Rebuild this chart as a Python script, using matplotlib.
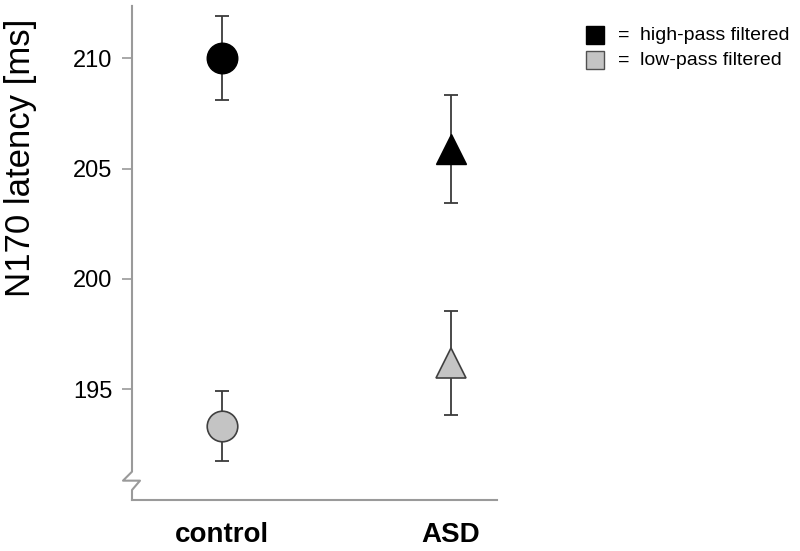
import numpy as np
import matplotlib
matplotlib.use('Agg')
import matplotlib.pyplot as plt
from matplotlib.lines import Line2D

plt.rcParams['font.family'] = ['Liberation Sans', 'DejaVu Sans']

groups = ['control', 'ASD']
high_pass = [210.0, 205.9]
high_pass_err = [1.9, 2.45]
low_pass = [193.33, 196.2]
low_pass_err = [1.58, 2.36]
markers = ['o', '^']
yticks = [195, 200, 205, 210]

axis_col = '#9a9a9a'
err_col = '#3a3a3a'
gray_fill = '#c4c4c4'

fig = plt.figure(figsize=(8, 5.51), dpi=100)
ax = fig.add_axes([0.165, 0.0926, 0.456, 0.8966])

xpos = np.arange(len(groups))
for i in range(len(groups)):
    ax.errorbar(xpos[i], high_pass[i], yerr=high_pass_err[i], fmt='none',
                ecolor=err_col, elinewidth=1.3, capsize=5, capthick=1.3, zorder=2)
    ax.plot(xpos[i], high_pass[i], marker=markers[i], ms=22, mfc='black',
            mec='black', mew=1, zorder=3, linestyle='none')
    ax.errorbar(xpos[i], low_pass[i], yerr=low_pass_err[i], fmt='none',
                ecolor=err_col, elinewidth=1.3, capsize=5, capthick=1.3, zorder=2)
    ax.plot(xpos[i], low_pass[i], marker=markers[i], ms=22, mfc=gray_fill,
            mec='#404040', mew=1.2, zorder=3, linestyle='none')

ax.set_xlim(-0.394, 1.202)
ax.set_ylim(189.98, 212.37)
ax.set_yticks(yticks)
ax.set_yticklabels([str(t) for t in yticks], fontsize=17)
ax.set_xticks(xpos)
ax.set_xticklabels(groups, fontsize=20, fontweight='bold')
ax.tick_params(axis='x', length=0, pad=16)
ax.tick_params(axis='y', length=7, width=1.2, color=axis_col, pad=7)
ax.set_ylabel('N170 latency [ms]', fontsize=25, va='center')
ax.yaxis.set_label_coords(-0.307, 0.692)

for side in ['top', 'right', 'left']:
    ax.spines[side].set_visible(False)
ax.spines['bottom'].set_color(axis_col)
ax.spines['bottom'].set_linewidth(1.5)

# left axis with break mark
bx = [0, 0, -0.0247, 0.0219, 0, 0]
by = [1, 0.0573, 0.0391, 0.0391, 0.0202, 0]
ax.add_line(Line2D(bx, by, transform=ax.transAxes, color=axis_col,
                   lw=1.5, clip_on=False))

# legend
fig.patches.append(plt.Rectangle((0.732, 0.920), 0.0225, 0.0327, transform=fig.transFigure,
                                 facecolor='black', edgecolor='black', lw=1))
fig.patches.append(plt.Rectangle((0.732, 0.875), 0.0225, 0.0327, transform=fig.transFigure,
                                 facecolor=gray_fill, edgecolor='#505050', lw=1))
fig.text(0.773, 0.936, '=', fontsize=14, va='center')
fig.text(0.800, 0.936, 'high-pass filtered', fontsize=14, va='center')
fig.text(0.773, 0.891, '=', fontsize=14, va='center')
fig.text(0.800, 0.891, 'low-pass filtered', fontsize=14, va='center')

fig.savefig('out.png', dpi=100)
